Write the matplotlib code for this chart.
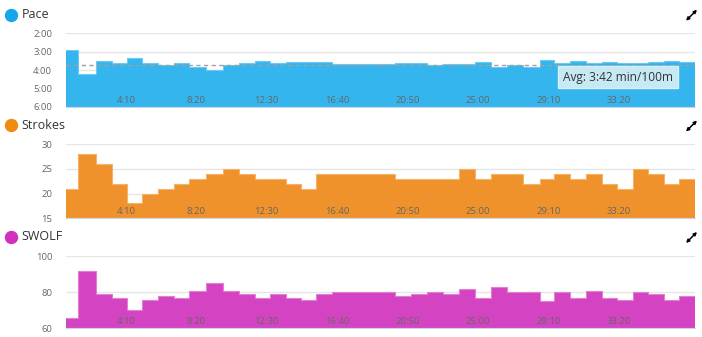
import numpy as np
import matplotlib
matplotlib.use('Agg')
import matplotlib.pyplot as plt
from matplotlib.ticker import FuncFormatter
from matplotlib.lines import Line2D
from matplotlib.patches import FancyArrowPatch

# swim session, 25 m laps
start_sec = 37
lap_sec = [44, 63, 56, 55, 52, 56, 57, 55, 59, 61, 57, 55, 54, 56, 53, 55, 56,
           56, 57, 57, 56,
           54, 58, 57, 56, 57, 56, 57, 57, 60, 52, 57, 55, 57, 54, 56, 55, 55, 54, 57]
# pace in seconds per 100 m
pace = [174, 251, 210, 218, 201, 218, 222, 218, 230, 241, 222, 218, 210, 218, 213, 213, 213,
        220, 220, 220, 220,
        217, 217, 223, 219, 219, 213, 231, 223, 229, 206, 218, 210, 217, 214, 216, 218, 213, 210, 214]
strokes = [21, 28, 26, 22, 18, 20, 21, 22, 23, 24, 25, 24, 23, 23, 22, 21, 24,
           24, 24, 24, 24,
           23, 23, 23, 23, 25, 23, 24, 24, 22, 23, 24, 23, 24, 22, 21, 25, 24, 22, 23]
swolf = [66, 92, 79, 77, 70, 76, 78, 77, 81, 85, 81, 79, 77, 79, 77, 76, 79,
         80, 80, 80, 80,
         78, 79, 80, 79, 82, 77, 83, 80, 80, 75, 80, 77, 81, 77, 76, 80, 79, 76, 78]
avg_pace = 222
time_ticks = [250, 500, 750, 1000, 1250, 1500, 1750, 2000]

plt.rcParams['font.family'] = ['Open Sans', 'DejaVu Sans']

W, H = 702, 337
fig = plt.figure(figsize=(W / 100, H / 100), dpi=100)

edges = start_sec + np.concatenate([[0], np.cumsum(lap_sec)])


def mmss(v, pos=None):
    v = int(round(v))
    return '%d:%02d' % (v // 60, v % 60)


def panel(top, bottom, values, color, edge, ylim, yticks, yfmt=None):
    left, right = 66, 695
    ax = fig.add_axes([left / W, 1 - bottom / H, (right - left) / W, (bottom - top) / H])
    y = list(values) + [values[-1]]
    ax.fill_between(edges, y, ylim[0], step='post', color=color, lw=0, zorder=1)
    ax.step(edges, y, where='post', color=edge, lw=0.8, zorder=1.5)
    ax.set_xlim(edges[0], edges[-1])
    ax.set_ylim(*ylim)
    ax.set_yticks(yticks)
    if yfmt:
        ax.yaxis.set_major_formatter(FuncFormatter(yfmt))
    ax.set_xticks(time_ticks)
    ax.xaxis.set_major_formatter(FuncFormatter(mmss))
    ax.grid(axis='y', color='#e6e6e6', lw=1)
    ax.set_axisbelow(True)
    ax.xaxis.set_zorder(3)
    ax.tick_params(axis='x', length=0, pad=-8, labelsize=6.8, labelcolor='#666666')
    ax.tick_params(axis='y', length=0, pad=10, labelsize=6.8, labelcolor='#666666')
    for s in ['top', 'right', 'left']:
        ax.spines[s].set_visible(False)
    ax.spines['bottom'].set_color('#ccd6eb')
    ax.set_facecolor('none')
    return ax


def header(ypix, name, dot):
    fig.add_artist(Line2D([10.8 / W], [1 - ypix / H], marker='o', markersize=8.6,
                          color=dot, transform=fig.transFigure))
    fig.text(21.5 / W, 1 - ypix / H, name, fontsize=9, color='#333333', va='center')
    # expand icon
    icon = FancyArrowPatch((686 / W, 1 - (ypix + 6) / H), (697 / W, 1 - (ypix - 5) / H),
                           transform=fig.transFigure, arrowstyle='<|-|>',
                           mutation_scale=4.5, lw=1.1, color='black',
                           shrinkA=0, shrinkB=0)
    fig.add_artist(icon)


ax1 = panel(33.3, 107, pace, '#35b5ed', '#6ec9f2', (360, 120),
            [120, 180, 240, 300, 360], mmss)
ax1.axhline(avg_pace, color='#a0a0a0', lw=1, ls=(0, (3, 2.5)), zorder=2)
ax1.annotate('Avg: ' + mmss(avg_pace) + ' min/100m', xy=(edges[-1], avg_pace),
             xytext=(-16, -9), textcoords='offset points', ha='right', va='center',
             fontsize=8.6, color='#333333', zorder=4,
             bbox=dict(boxstyle='square,pad=0.4', fc='#c6e9f4', ec='#d8f0f8', lw=1))

ax2 = panel(144, 218.3, strokes, '#f0922b', '#f5b26a', (15, 30), [15, 20, 25, 30])
ax3 = panel(256.3, 328.3, swolf, '#d444c2', '#e27fd5', (60, 100), [60, 80, 100])

header(14.7, 'Pace', '#17a6ec')
header(125.5, 'Strokes', '#ef8a12')
header(237, 'SWOLF', '#d12fbe')

fig.savefig('out.png', dpi=100)
